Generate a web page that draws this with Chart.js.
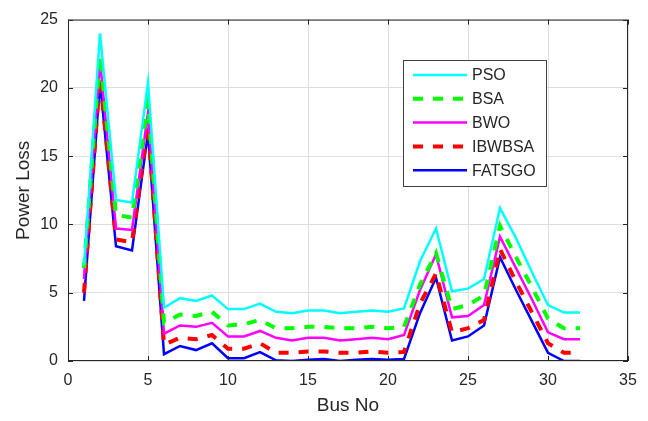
<!DOCTYPE html>
<html>
<head>
<meta charset="utf-8">
<script src="https://cdn.jsdelivr.net/npm/chart.js@4"></script>
<style>
  html, body { margin: 0; padding: 0; background: #fff; }
  #wrap { width: 648px; height: 421px; }
</style>
</head>
<body>
<div id="wrap"><canvas id="myChart" width="648" height="421"></canvas></div>
<script>
const busNo = [1, 2, 3, 4, 5, 6, 7, 8, 9, 10, 11, 12, 13, 14, 15, 16, 17, 18, 19, 20, 21, 22, 23, 24, 25, 26, 27, 28, 29, 30, 31, 32];
const pso    = [7.0, 24.0, 11.8, 11.6, 20.4, 3.9, 4.6, 4.4, 4.8, 3.8, 3.8, 4.2, 3.6, 3.5, 3.7, 3.7, 3.5, 3.6, 3.7, 3.6, 3.85, 7.3, 9.7, 5.1, 5.3, 6.0, 11.2, 9.0, 6.5, 4.1, 3.55, 3.55];
const bsa    = [6.8, 22.4, 10.7, 10.5, 19.0, 2.8, 3.4, 3.3, 3.6, 2.6, 2.7, 3.0, 2.4, 2.4, 2.5, 2.5, 2.4, 2.4, 2.5, 2.4, 2.5, 5.6, 7.9, 3.8, 4.1, 4.8, 9.9, 7.6, 5.4, 3.1, 2.4, 2.4];
const bwo    = [6.0, 22.0, 9.7, 9.6, 18.2, 2.0, 2.6, 2.5, 2.8, 1.8, 1.8, 2.2, 1.7, 1.5, 1.7, 1.7, 1.5, 1.6, 1.7, 1.6, 1.9, 5.2, 7.8, 3.2, 3.3, 4.1, 9.1, 6.8, 4.5, 2.1, 1.6, 1.6];
const ibwbsa = [5.0, 20.8, 8.9, 8.7, 17.3, 1.2, 1.7, 1.6, 1.9, 0.9, 0.9, 1.3, 0.6, 0.6, 0.7, 0.7, 0.6, 0.6, 0.7, 0.6, 0.65, 4.2, 6.4, 2.1, 2.4, 3.0, 8.2, 5.8, 3.55, 1.3, 0.6, 0.6];
const fatsgo = [4.4, 20.4, 8.4, 8.1, 16.7, 0.5, 1.1, 0.8, 1.3, 0.2, 0.2, 0.65, 0.05, 0.0, 0.1, 0.15, 0.0, 0.1, 0.15, 0.1, 0.15, 3.5, 6.1, 1.5, 1.8, 2.6, 7.6, 5.2, 2.9, 0.6, 0.0, 0.0];
const xTicks = [0, 5, 10, 15, 20, 25, 30, 35];
const yTicks = [0, 5, 10, 15, 20, 25];

const axisColor = '#262626';
const font = 'Liberation Sans, Arial, sans-serif';

const pts = arr => arr.map((v, i) => ({ x: busNo[i], y: v }));

function series(label, arr, color, dashed) {
    return {
        label: label,
        data: pts(arr),
        borderColor: color,
        backgroundColor: color,
        borderWidth: dashed ? 4 : 2.5,
        borderDash: dashed ? [10, 10] : [],
        pointRadius: 0,
        tension: 0,
        fill: false
    };
}

// MATLAB-like box, inward ticks and a framed legend
const matlabLook = {
    id: 'matlabLook',
    afterDraw(chart) {
        const c = chart.ctx, a = chart.chartArea;
        const xs = chart.scales.x, ys = chart.scales.y;
        c.save();
        c.strokeStyle = axisColor;
        c.lineWidth = 1;
        c.strokeRect(a.left + 0.5, a.top + 0.5, a.right - a.left - 1, a.bottom - a.top - 1);
        c.beginPath();
        xTicks.forEach(t => {
            const px = Math.round(xs.getPixelForValue(t)) + 0.5;
            c.moveTo(px, a.bottom); c.lineTo(px, a.bottom - 5);
            c.moveTo(px, a.top); c.lineTo(px, a.top + 5);
        });
        yTicks.forEach(t => {
            const py = Math.round(ys.getPixelForValue(t)) + 0.5;
            c.moveTo(a.left, py); c.lineTo(a.left + 5, py);
            c.moveTo(a.right, py); c.lineTo(a.right - 5, py);
        });
        c.stroke();

        // legend
        const lx = 403, ly = 60, lw = 143, lh = 126;
        c.fillStyle = '#fff';
        c.fillRect(lx, ly, lw, lh);
        c.strokeStyle = '#404040';
        c.strokeRect(lx + 0.5, ly + 0.5, lw, lh);
        c.font = '16px ' + font;
        c.textBaseline = 'middle';
        chart.data.datasets.forEach((ds, i) => {
            const y = 75 + i * 23.8;
            c.strokeStyle = ds.borderColor;
            c.lineWidth = ds.borderWidth;
            c.setLineDash(ds.borderDash);
            c.beginPath();
            c.moveTo(413, y); c.lineTo(467, y);
            c.stroke();
            c.setLineDash([]);
            c.fillStyle = axisColor;
            c.fillText(ds.label, 472, y + 1);
        });
        c.restore();
    }
};

const ctx = document.getElementById('myChart').getContext('2d');
const myChart = new Chart(ctx, {
    type: 'line',
    data: {
        datasets: [
            series('PSO', pso, '#00ffff', false),
            series('BSA', bsa, '#00ff00', true),
            series('BWO', bwo, '#ff00ff', false),
            series('IBWBSA', ibwbsa, '#ff0000', true),
            series('FATSGO', fatsgo, '#0000ff', false)
        ]
    },
    options: {
        responsive: false,
        animation: false,
        layout: { padding: { top: 17, right: 20, left: 0, bottom: 0 } },
        plugins: { legend: { display: false }, tooltip: { enabled: false } },
        scales: {
            x: {
                type: 'linear',
                min: 0, max: 35,
                afterBuildTicks: s => { s.ticks = xTicks.map(v => ({ value: v })); },
                afterFit: s => { s.height = 60; },
                grid: { color: '#dedede', drawTicks: false },
                border: { display: false },
                ticks: { color: axisColor, padding: 10, font: { family: font, size: 16 } },
                title: { display: true, text: 'Bus No', color: axisColor, padding: { top: 4 }, font: { family: font, size: 19 } }
            },
            y: {
                min: 0, max: 25,
                afterBuildTicks: s => { s.ticks = yTicks.map(v => ({ value: v })); },
                afterFit: s => { s.width = 68; },
                grid: { color: '#dedede', drawTicks: false },
                border: { display: false },
                ticks: { color: axisColor, padding: 10, font: { family: font, size: 16 } },
                title: { display: true, text: 'Power Loss', color: axisColor, padding: { top: 12, bottom: 2 }, font: { family: font, size: 19 } }
            }
        }
    },
    plugins: [matlabLook]
});
</script>
</body>
</html>
